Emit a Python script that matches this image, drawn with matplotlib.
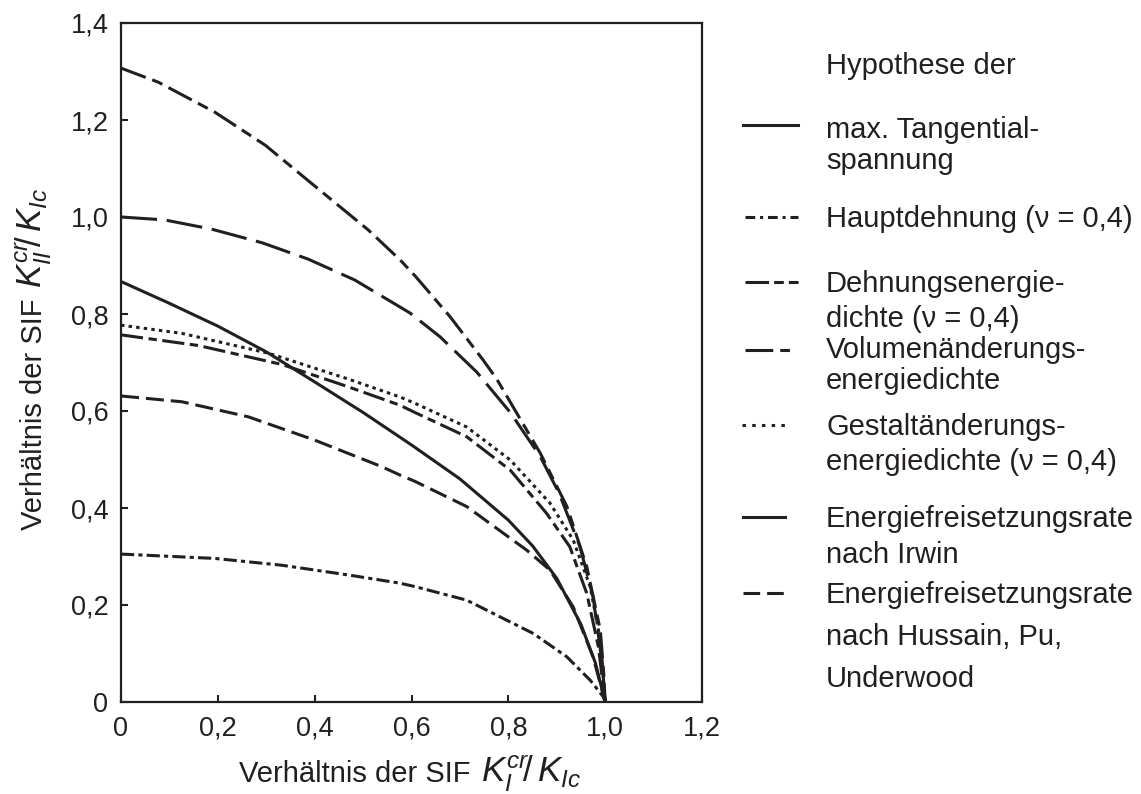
import matplotlib
matplotlib.use("Agg")
import matplotlib.pyplot as plt
from matplotlib.lines import Line2D

plt.rcParams['font.family'] = ['Liberation Sans', 'DejaVu Sans']
plt.rcParams['mathtext.fontset'] = 'custom'
plt.rcParams['mathtext.rm'] = 'Liberation Sans'
plt.rcParams['mathtext.it'] = 'Liberation Sans:italic'
plt.rcParams['lines.scale_dashes'] = False

INK = '#231f20'

# ---- data ----
x_vol = [0, 0.077, 0.194, 0.298, 0.400, 0.511, 0.577, 0.607, 0.680, 0.748, 0.776, 0.866, 0.921, 0.962, 0.990, 0.997, 1.0]
y_vol = [1.307, 1.278, 1.216, 1.148, 1.064, 0.973, 0.911, 0.879, 0.794, 0.705, 0.666, 0.513, 0.403, 0.279, 0.148, 0.06, 0.0]

x_long = [0, 0.090, 0.187, 0.291, 0.387, 0.483, 0.597, 0.659, 0.735, 0.804, 0.866, 0.905, 0.948, 0.975, 0.994, 1.0]
y_long = [1.0, 0.994, 0.975, 0.947, 0.913, 0.870, 0.802, 0.753, 0.680, 0.597, 0.506, 0.430, 0.320, 0.217, 0.080, 0.0]

x_mts = [0, 0.1, 0.2, 0.3, 0.4, 0.5, 0.6, 0.7, 0.8, 0.85, 0.9, 0.95, 0.98, 1.0]
y_mts = [0.867, 0.822, 0.775, 0.722, 0.66, 0.597, 0.53, 0.46, 0.375, 0.322, 0.255, 0.16, 0.08, 0.0]

x_gest = [0, 0.126, 0.305, 0.469, 0.576, 0.607, 0.714, 0.804, 0.886, 0.934, 0.969, 0.990, 1.0]
y_gest = [0.777, 0.760, 0.719, 0.666, 0.629, 0.616, 0.567, 0.499, 0.410, 0.334, 0.238, 0.128, 0.0]

x_dehn = [0, 0.160, 0.332, 0.469, 0.576, 0.607, 0.714, 0.804, 0.879, 0.927, 0.962, 0.986, 1.0]
y_dehn = [0.757, 0.735, 0.696, 0.650, 0.612, 0.597, 0.547, 0.478, 0.389, 0.320, 0.224, 0.114, 0.0]

x_huss = [0, 0.126, 0.263, 0.400, 0.539, 0.576, 0.607, 0.714, 0.838, 0.886, 0.934, 0.975, 1.0]
y_huss = [0.631, 0.619, 0.588, 0.540, 0.485, 0.468, 0.455, 0.403, 0.313, 0.272, 0.196, 0.093, 0.0]

x_haupt = [0, 0.194, 0.332, 0.469, 0.576, 0.607, 0.714, 0.852, 0.921, 0.969, 0.996, 1.0]
y_haupt = [0.305, 0.296, 0.282, 0.262, 0.245, 0.238, 0.210, 0.141, 0.093, 0.045, 0.011, 0.0]

x_ticks = [0, 0.2, 0.4, 0.6, 0.8, 1.0, 1.2]
x_ticklabels = ['0', '0,2', '0,4', '0,6', '0,8', '1,0', '1,2']
y_ticks = [0, 0.2, 0.4, 0.6, 0.8, 1.0, 1.2, 1.4]
y_ticklabels = ['0', '0,2', '0,4', '0,6', '0,8', '1,0', '1,2', '1,4']

W, H = 1141, 794
fig = plt.figure(figsize=(W / 100, H / 100), dpi=100)
ax = fig.add_axes([121 / W, 1 - 702 / H, 581 / W, 679 / H])

LW = 2.2
ax.plot(x_vol, y_vol, color=INK, lw=LW, ls=(0, (19, 5, 8, 5)))
ax.plot(x_long, y_long, color=INK, lw=LW, ls=(0, (26, 7)))
ax.plot(x_mts, y_mts, color=INK, lw=LW, ls='-')
ax.plot(x_gest, y_gest, color=INK, lw=LW, ls=(0, (2.5, 3)), dash_capstyle='butt')
ax.plot(x_dehn, y_dehn, color=INK, lw=LW, ls=(0, (16, 4, 6, 4)))
ax.plot(x_huss, y_huss, color=INK, lw=LW, ls=(0, (13, 5)))
ax.plot(x_haupt, y_haupt, color=INK, lw=LW, ls=(0, (9.5, 3, 3, 3)))

ax.set_xlim(0, 1.2)
ax.set_ylim(0, 1.4)
ax.set_xticks(x_ticks)
ax.set_xticklabels(x_ticklabels)
ax.set_yticks(y_ticks)
ax.set_yticklabels(y_ticklabels)
ax.tick_params(axis='both', direction='in', length=5, width=1.5, colors=INK,
               labelsize=19.5, labelcolor=INK)
ax.tick_params(axis='x', pad=10)
ax.tick_params(axis='y', pad=9)
for s in ax.spines.values():
    s.set_linewidth(1.6)
    s.set_color(INK)

ov = fig.add_axes([0, 0, 1, 1])
ov.set_xlim(0, W)
ov.set_ylim(H, 0)
ov.axis('off')

# axis labels (text part + larger math part)
ov.text(239, 782, 'Verhältnis der SIF', ha='left', va='baseline', fontsize=21, color=INK)
ov.text(481, 782, r'$K_I^{cr}\!/\,K_{Ic}$', ha='left', va='baseline', fontsize=25, color=INK)
ov.text(42, 530, 'Verhältnis der SIF', ha='left', va='baseline', fontsize=21, color=INK,
        rotation=90, rotation_mode='anchor')
ov.text(42, 288, r'$K_{II}^{cr}\!/\,K_{Ic}$', ha='left', va='baseline', fontsize=25, color=INK,
        rotation=90, rotation_mode='anchor')

# ---- legend (manual layout) ----
TX = 826
FS = 21
texts = [
    ('Hypothese der', 74),
    ('max. Tangential-', 138), ('spannung', 169),
    ('Hauptdehnung (ν = 0,4)', 227),
    ('Dehnungsenergie-', 292), ('dichte (ν = 0,4)', 327),
    ('Volumenänderungs-', 358), ('energiedichte', 389),
    ('Gestaltänderungs-', 435), ('energiedichte (ν = 0,4)', 470),
    ('Energiefreisetzungsrate', 527), ('nach Irwin', 563),
    ('Energiefreisetzungsrate', 603), ('nach Hussain, Pu,', 645), ('Underwood', 687),
]
for t, yb in texts:
    ov.text(TX, yb, t, ha='left', va='baseline', fontsize=FS, color=INK)

handles = [
    (743, 798, 125, '-'),
    (745, 798, 217, (0, (7, 3.5, 2.2, 3.5))),
    (745, 800, 282, (0, (17, 3.6, 7, 3.6, 7, 3.6))),
    (745, 790, 350, (0, (20, 5, 7, 5))),
    (742, 786, 425, (0, (2.5, 4.5))),
    (743, 785, 517, '-'),
    (743, 784, 593, (0, (12, 5))),
]
for x0, x1, yy, ls in handles:
    ov.add_line(Line2D([x0, x1], [yy, yy], color=INK, lw=LW, ls=ls,
                       dash_capstyle='butt'))

fig.savefig('out.png', dpi=100)
